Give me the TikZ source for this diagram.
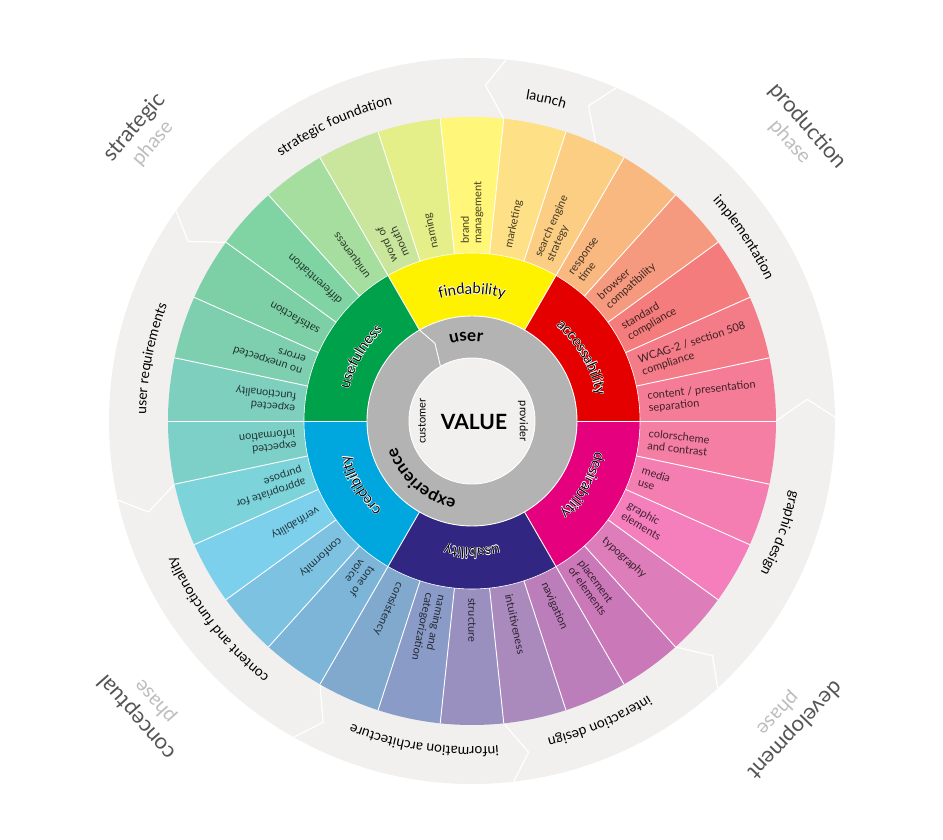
\documentclass[tikz,border=0pt]{standalone}
\usepackage{fontspec}
\setmainfont{Lato}
\usepackage{tikz}
\usetikzlibrary{decorations.text}
\definecolor{wheelbg}{HTML}{F1F0EF}
\definecolor{wheelcore}{HTML}{B3B3B3}
\definecolor{wheelink}{HTML}{0A0A0A}
\definecolor{phasedark}{HTML}{555555}
\definecolor{phaselight}{HTML}{BDBDBD}
\newcommand\leaffont{\fontsize{11}{12.5}\selectfont}
\newcommand\bandfont{\fontsize{14}{16}\selectfont}
\newcommand\midfont{\fontsize{15}{17}\selectfont}
\newcommand\corefont{\fontsize{17}{19}\selectfont\bfseries}
\tikzset{
  divider/.style={draw=white,line width=0.9pt},
  leaf/.style={anchor=west,align=left,inner sep=0pt,font=\leaffont,text=black,text opacity=0.74},
  bandword/.style={decorate,decoration={text along path,text align=center,text/.expanded={|\noexpand\bandfont|#1}}},
  midword/.style={decorate,decoration={text along path,text align=center,text color=wheelink,text/.expanded={|\noexpand\midfont|#1}}},
  coreword/.style={decorate,decoration={text along path,text align=center,text={|\corefont|#1}}},
  phaseword/.style={font=\fontsize{22}{24}\selectfont,text=phasedark,inner sep=0pt},
  phasesub/.style={font=\fontsize{20}{22}\selectfont,text=phaselight,inner sep=0pt},
}

\begin{document}
\begin{tikzpicture}[x=1pt,y=1pt]
  \useasboundingbox (-472,-419) rectangle (471,421);
  % grey band of the phases
  \fill[wheelbg] (0,0) circle (363);
  \foreach \b in {0,66,84,144,192,240,276,312}
    \draw[divider,line width=1.2pt] (\b:304) -- (\b+3.7:336) -- (\b+0.6:363);
  % outer leaves, counter-clockwise from 0 deg
  \foreach \h [count=\i from 0, evaluate=\i as \a using \i*12] in {F47C96,F47B88,F47C7C,F59A7E,F8B880,FBCE84,FEE086,FFF67A,E5EF8A,C9E69C,A6DEA0,80D4A4,7DCFA5,7DCFAF,7ECFBE,7DD0C8,7CD3D9,7DD0EC,7EC2E2,7DB5D8,80A9CD,8B9BC7,9A90C0,AA89BD,BB7EBA,CB78B9,DD7DBA,F47FBC,F47EB1,F47EA4}{
    \definecolor{leafc}{HTML}{\h}
    \fill[leafc] (\a:168) arc[start angle=\a,end angle=\a+12,radius=168] -- (\a+12:304) arc[start angle=\a+12,end angle=\a,radius=304] -- cycle;
  }
  % six qualities
  \foreach \h [count=\i from 0, evaluate=\i as \a using \i*60] in {E50000,FFF200,00A14B,00A6DE,312782,E5007D}{
    \definecolor{petalc}{HTML}{\h}
    \fill[petalc] (\a:105) arc[start angle=\a,end angle=\a+60,radius=105] -- (\a+60:168) arc[start angle=\a+60,end angle=\a,radius=168] -- cycle;
  }
  \foreach \a in {0,12,...,348} \draw[divider] (\a:168) -- (\a:304);
  \foreach \a in {0,60,...,300} \draw[divider] (\a:105) -- (\a:168);
  \draw[divider,line width=0.6pt] (0,0) circle (168);
  % core
  \fill[wheelcore] (0,0) circle (105);
  \draw[divider] (0,0) circle (105);
  \fill[wheelbg] (0,0) circle (63);
  \draw[divider] (0,0) circle (63);
  \draw[divider] (120:63) -- (115.5:86) -- (120:105);

  \foreach \t [count=\i from 0, evaluate=\i as \a using \i*12+6] in {{content / presentation\\separation},{WCAG-2 / section 508\\compliance},{standard\\compliance},{browser\\compatibility},{response\\time},{search engine\\strategy},{marketing},{brand\\management},{naming},{word of\\mouth},{uniqueness},{differentiation},{satisfaction},{no unexpected\\errors},{expected\\functionality},{expected\\information},{appropriate for\\purpose},{verifiability},{conformity},{tone of\\voice},{consistency},{naming and\\categorization},{structure},{intuitiveness},{navigation},{placement\\of elements},{typography},{graphic\\elements},{media\\use},{colorscheme\\and contrast}}
    \node[leaf,rotate=\a] (leaf\i) at (\a:177) {\t};

  \foreach \a/\t in {169/user requirements,115/strategic foundation,77/launch,34/implementation,-20/graphic design,-67/interaction design,261.5/information architecture,218/content and functionality}
    \path[bandword=\t] (\a+28:326) arc[start angle=\a+28,end angle=\a-28,radius=326];

  \foreach \t [count=\i from 0, evaluate=\i as \a using \i*60+30] in {accessability,findability,usefulness,credibility,usability,desirability}{
    \foreach \dx/\dy in {0.45/0,-0.45/0,0.3/0.4,-0.3/0.4,0.3/-0.4,-0.3/-0.4}
      \path[midword=\t,decoration={text color=white},shift={(\dx,\dy)}] (\a+35:127) arc[start angle=\a+35,end angle=\a-35,radius=127];
    \path[midword=\t] (\a+35:127) arc[start angle=\a+35,end angle=\a-35,radius=127];
  }

  \path[coreword=user] (124:80) arc[start angle=124,end angle=64,radius=80];
  \path[coreword=experience] (279:80) arc[start angle=279,end angle=179,radius=80];
  \node[font=\fontsize{21}{23}\selectfont\bfseries] (value) at (2,-1) {VALUE};
  \node[font=\leaffont,rotate=90] (customer) at (180:50) {customer};
  \node[font=\leaffont,rotate=-90] (provider) at (0:51) {provider};

  \foreach \a/\t in {139/strategic,41.3/production,-43.7/development,221.5/conceptual}{
    \node[phaseword,rotate=\a-90] (ph\t) at (\a:447) {\t};
    \node[phasesub,rotate=\a-90] (sub\t) at (\a:423) {phase};
  }
\end{tikzpicture}
\end{document}
